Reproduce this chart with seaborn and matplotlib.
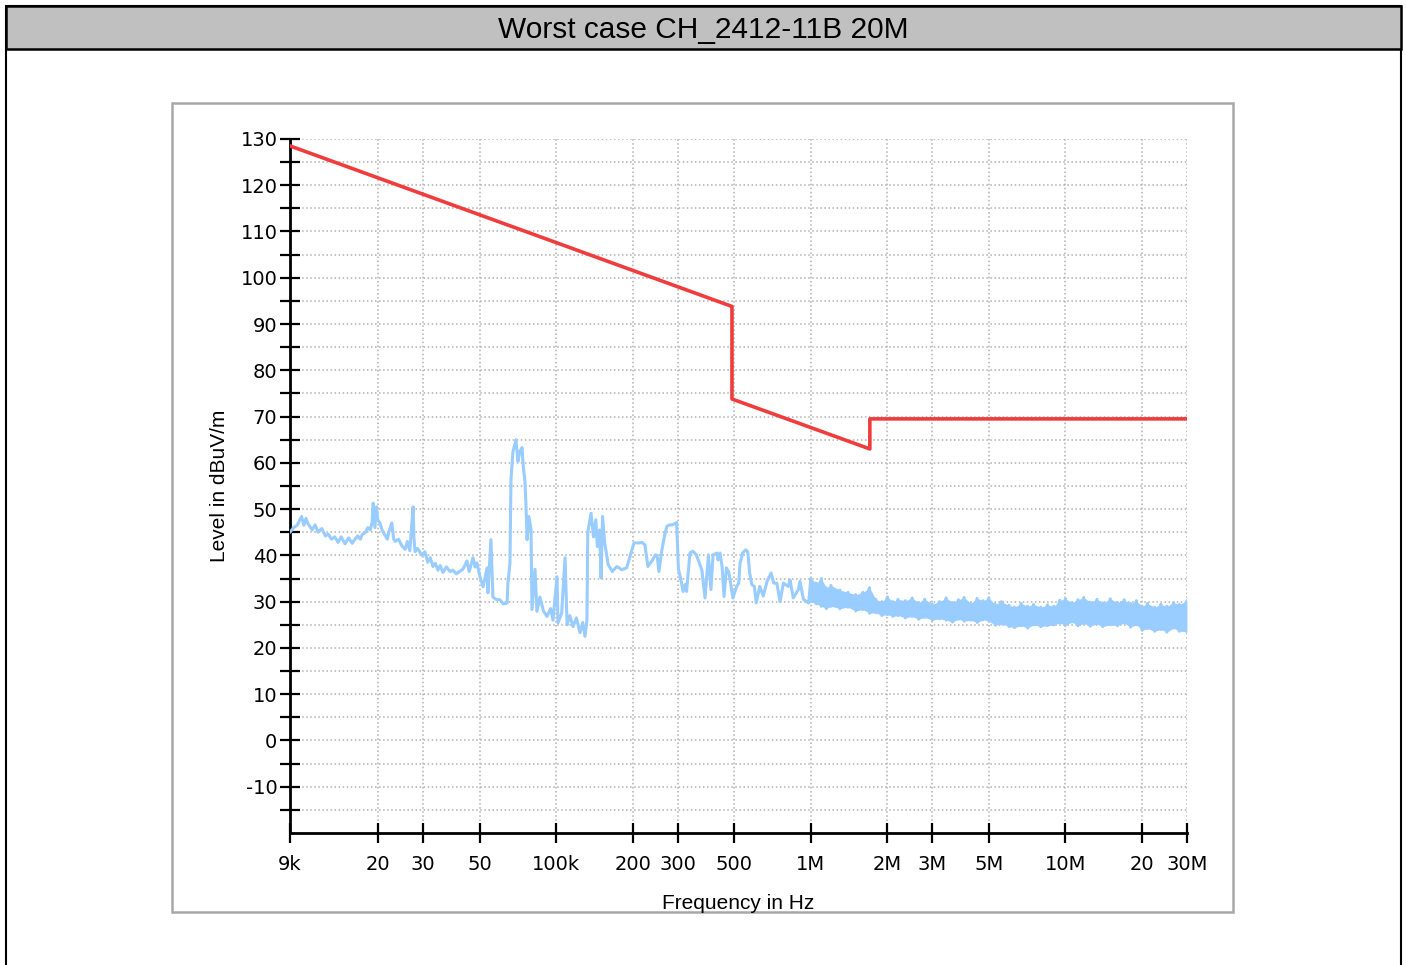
import numpy as np
import pandas as pd
import matplotlib
matplotlib.use("Agg")
import matplotlib.pyplot as plt
import seaborn as sns
from matplotlib.patches import Rectangle
from matplotlib.ticker import NullLocator

# limit line (dBuV/m), frequency in Hz
limit_freq_hz = [9e3, 490e3, 490e3, 1.705e6, 1.705e6, 30e6]
limit_dbuv = [128.5, 93.8, 73.8, 63.0, 69.5, 69.5]

# measured trace below 1 MHz, frequency in kHz
trace_freq_khz = [
    9.0, 9.3, 9.6, 10.0, 10.2, 10.4, 10.6, 11.0, 11.3, 11.6, 12.0, 12.4, 12.7, 13.1,
    13.5, 13.9, 14.3, 14.8, 15.3, 15.8, 16.2, 16.6, 17.0, 17.3, 17.8, 18.2, 18.6, 18.9,
    19.1, 19.4, 19.7, 19.9, 20.3, 20.7, 21.2, 21.7, 22.0, 22.6, 23.0, 23.3, 24.0, 24.8,
    25.5, 26.0, 26.6, 27.4, 27.6, 27.9, 28.5, 29.7, 30.5, 31.3, 32.0, 32.8, 33.5, 34.3,
    35.0, 35.9, 37.0, 38.3, 39.3, 40.5, 41.9, 43.0, 44.6, 45.5, 47.1, 48.0, 48.8, 50.2,
    51.6, 53.5, 53.9, 55.4, 56.4, 58.0, 60.1, 62.0, 64.1, 64.6, 65.8, 66.4, 67.6, 69.5,
    70.7, 72.0, 73.4, 74.0, 75.4, 76.1, 76.8, 78.1, 79.6, 80.3, 82.5, 84.0, 86.3, 89.0,
    92.0, 95.0, 97.1, 100.7, 101.6, 105.0, 108.3, 110.3, 113.0, 116.4, 120.0, 124.0,
    127.0, 129.7, 132.0, 133.0, 137.0, 140.0, 143.0, 145.0, 148.0, 150.0, 152.0, 155.0,
    160.0, 166.0, 173.0, 181.0, 189.0, 195.0, 202.0, 211.0, 217.0, 223.0, 229.0, 239.0,
    245.0, 249.0, 253.0, 260.0, 267.0, 272.0, 279.0, 286.0, 297.0, 302.0, 307.0, 315.0,
    321.0, 325.0, 335.0, 344.0, 355.0, 373.0, 384.0, 396.0, 405.0, 413.0, 428.0, 432.0,
    440.0, 448.0, 456.0, 466.0, 477.0, 494.0, 511.0, 521.0, 527.0, 540.0, 554.0, 565.0,
    575.0, 586.0, 600.0, 610.0, 630.0, 650.0, 673.0, 698.0, 715.0, 735.0, 757.0, 780.0,
    815.0, 828.0, 853.0, 893.0, 906.0, 935.0, 980.0,
]
trace_dbuv = [
    45.0, 46.0, 46.5, 48.4, 46.5, 48.0, 46.8, 45.5, 46.6, 45.0, 45.8, 44.2, 44.6, 43.5,
    44.0, 42.8, 44.0, 42.5, 43.8, 42.6, 43.5, 44.2, 43.5, 44.5, 45.0, 46.0, 45.5, 47.0,
    51.3, 46.0, 50.5, 47.7, 47.0, 45.5, 44.5, 43.5, 45.0, 47.0, 43.5, 43.0, 43.5, 42.0,
    41.3, 43.0, 41.0, 50.5, 44.0, 40.8, 41.5, 40.0, 40.8, 38.5, 39.5, 37.6, 38.3, 36.8,
    37.8, 36.3, 37.5, 36.5, 36.8, 36.0, 36.6, 37.0, 38.8, 36.5, 39.5, 37.5, 38.4, 35.3,
    33.2, 37.3, 31.9, 43.4, 31.0, 30.5, 30.4, 29.5, 29.7, 34.0, 38.3, 56.3, 62.4, 65.0,
    60.3, 62.5, 63.3, 60.0, 55.7, 50.5, 43.4, 48.4, 45.6, 28.3, 37.0, 27.9, 31.0, 28.0,
    26.8, 28.5, 26.0, 35.4, 25.4, 27.5, 39.5, 25.0, 27.0, 24.6, 26.5, 23.3,
    25.5, 22.5, 26.0, 45.0, 49.1, 44.0, 47.7, 41.9, 45.5, 35.1, 48.4, 42.7,
    38.0, 36.5, 37.6, 36.9, 37.3, 39.8, 42.7, 42.7, 42.8, 42.3, 37.6, 39.0,
    40.1, 40.0, 36.5, 41.2, 44.5, 46.3, 46.6, 46.6, 47.1, 36.9, 35.4, 32.2,
    33.7, 32.2, 40.5, 40.9, 40.1, 36.9, 30.8, 40.1, 32.6, 40.1, 40.5, 39.0,
    40.5, 37.6, 31.1, 37.3, 36.2, 30.8, 33.3, 34.0, 38.3, 40.5, 41.2, 40.8,
    36.2, 33.7, 33.3, 29.7, 33.3, 31.2, 34.4, 36.2, 34.0, 34.0, 30.0, 34.0,
    33.3, 34.7, 30.8, 32.6, 34.4, 30.5, 29.7,
]

# noise floor above 1 MHz: upper and lower edge of the band, frequency in MHz
noise_freq_mhz = [
    1.0, 1.05, 1.1, 1.15, 1.2, 1.3, 1.4, 1.5, 1.6, 1.7, 1.8, 1.9, 2.0, 2.1, 2.2, 2.35,
    2.5, 2.65, 2.8, 3.0, 3.2, 3.4, 3.6, 3.8, 4.0, 4.25, 4.5, 4.75, 5.0, 5.3, 5.6, 6.0,
    6.3, 6.7, 7.1, 7.5, 8.0, 8.5, 9.0, 9.5, 10.0, 10.6, 11.2, 11.8, 12.5, 13.3, 14.0,
    15.0, 16.0, 17.0, 18.0, 19.0, 20.0, 21.0, 22.4, 23.7, 25.0, 26.6, 28.0, 30.0,
]
noise_hi_dbuv = [
    35.0, 34.0, 35.0, 33.0, 33.5, 32.5, 32.0, 31.5, 32.0, 33.0, 30.5, 30.0, 31.0, 30.0,
    30.5, 30.2, 30.8, 29.8, 30.5, 29.5, 30.0, 30.8, 29.8, 30.4, 30.9, 29.6, 30.7, 30.2,
    30.8, 29.4, 30.0, 29.2, 28.8, 29.6, 29.0, 29.4, 28.8, 29.3, 29.0, 30.3, 30.6, 29.8,
    30.4, 30.9, 29.9, 30.5, 29.7, 30.6, 29.8, 30.4, 29.6, 30.2, 29.0, 29.6, 28.8, 29.4,
    29.0, 29.8, 29.4, 30.2,
]
noise_lo_dbuv = [
    30.0, 29.5, 29.0, 28.5, 29.0, 28.5, 28.8, 28.0, 28.3, 27.5, 27.6, 27.0, 27.2, 26.8,
    27.0, 26.5, 26.8, 26.2, 26.6, 26.0, 26.3, 26.0, 25.6, 26.2, 25.8, 26.0, 25.5, 26.1,
    25.8, 24.9, 25.2, 24.6, 24.4, 24.8, 24.3, 25.0, 24.6, 24.8, 25.0, 25.4, 24.9, 25.6,
    24.8, 25.3, 24.7, 25.2, 24.6, 25.0, 24.8, 25.4, 24.5, 25.0, 23.8, 24.2, 23.6, 24.0,
    23.4, 24.3, 23.6, 23.5,
]

xtick_freqs = [9e3, 20e3, 30e3, 50e3, 100e3, 200e3, 300e3, 500e3,
               1e6, 2e6, 3e6, 5e6, 10e6, 20e6, 30e6]
xtick_labels = ["9k", "20", "30", "50", "100k", "200", "300", "500",
                "1M", "2M", "3M", "5M", "10M", "20", "30M"]

# build frames
main = pd.DataFrame({"freq": np.array(trace_freq_khz) * 1e3, "level": trace_dbuv})
noise_hz = np.array(noise_freq_mhz) * 1e6
nf = np.repeat(noise_hz, 2)
nl = np.column_stack([noise_hi_dbuv, noise_lo_dbuv]).ravel()
noise = pd.DataFrame({"freq": nf, "level": nl})
trace_df = pd.concat([main, noise], ignore_index=True)
limit_df = pd.DataFrame({"freq": limit_freq_hz, "level": limit_dbuv})

sns.set_style("white")
plt.rcParams["font.family"] = ["Liberation Sans", "DejaVu Sans"]
plt.rcParams["axes.unicode_minus"] = False
plt.rcParams["text.color"] = "black"
plt.rcParams["axes.labelcolor"] = "black"
plt.rcParams["xtick.color"] = "black"
plt.rcParams["ytick.color"] = "black"

fig = plt.figure(figsize=(14.07, 9.65), dpi=100)

# frame, title bar and inner panel
fig.add_artist(Rectangle((0.00426, -0.05), 0.99148, 1.04378, transform=fig.transFigure,
                         facecolor="white", edgecolor="black", lw=1.5, zorder=0))
fig.add_artist(Rectangle((0.00426, 0.94922), 0.99148, 0.04456, transform=fig.transFigure,
                         facecolor="#c0c0c0", edgecolor="black", lw=1.8, zorder=1))
fig.text(0.5, 0.969, "Worst case CH_2412-11B 20M", ha="center", va="center",
         fontsize=21.5, family="Liberation Sans", color="black")
fig.add_artist(Rectangle((0.12225, 0.05492), 0.75408, 0.83834, transform=fig.transFigure,
                         facecolor="white", edgecolor="#a8a8a8", lw=1.8, zorder=1))

ax = fig.add_axes([0.2061, 0.1368, 0.6375, 0.7192])
ax.set_zorder(2)
ax.patch.set_alpha(0)

ax.fill_between(noise_hz, noise_lo_dbuv, noise_hi_dbuv, color="#99ccff", lw=0, zorder=3)
sns.lineplot(data=trace_df, x="freq", y="level", ax=ax, color="#99ccff", lw=2.2,
             estimator=None, sort=False, zorder=3)
sns.lineplot(data=limit_df, x="freq", y="level", ax=ax, color="#f03c3c", lw=2.6,
             estimator=None, sort=False, zorder=4)

ax.set_xscale("log")
ax.set_xlim(9e3, 30e6)
ax.set_ylim(-20, 130)
ax.set_xticks(xtick_freqs)
ax.set_xticklabels(xtick_labels)
ax.xaxis.set_minor_locator(NullLocator())
ax.set_yticks(list(range(-10, 131, 10)))
ax.set_yticks(list(range(-15, 130, 10)), minor=True)

ax.grid(which="both", axis="y", ls=":", color="#b0b0b0", lw=1.1)
ax.grid(which="major", axis="x", ls=":", color="#b0b0b0", lw=1.1)

for s in ["top", "right"]:
    ax.spines[s].set_visible(False)
for s in ["left", "bottom"]:
    ax.spines[s].set_color("black")
    ax.spines[s].set_linewidth(2)

ax.tick_params(which="both", bottom=True, left=True, direction="inout",
               length=14, width=1.6, color="black")
ax.tick_params(axis="y", which="both", labelsize=14, pad=2)
ax.tick_params(axis="x", labelsize=14, pad=9)
for lab in ax.get_xticklabels() + ax.get_yticklabels():
    lab.set_family("DejaVu Sans")

ax.set_xlabel("Frequency in Hz", fontsize=15, labelpad=14)
ax.set_ylabel("Level in dBuV/m", fontsize=15, labelpad=8)

fig.savefig("out.png", dpi=100)
